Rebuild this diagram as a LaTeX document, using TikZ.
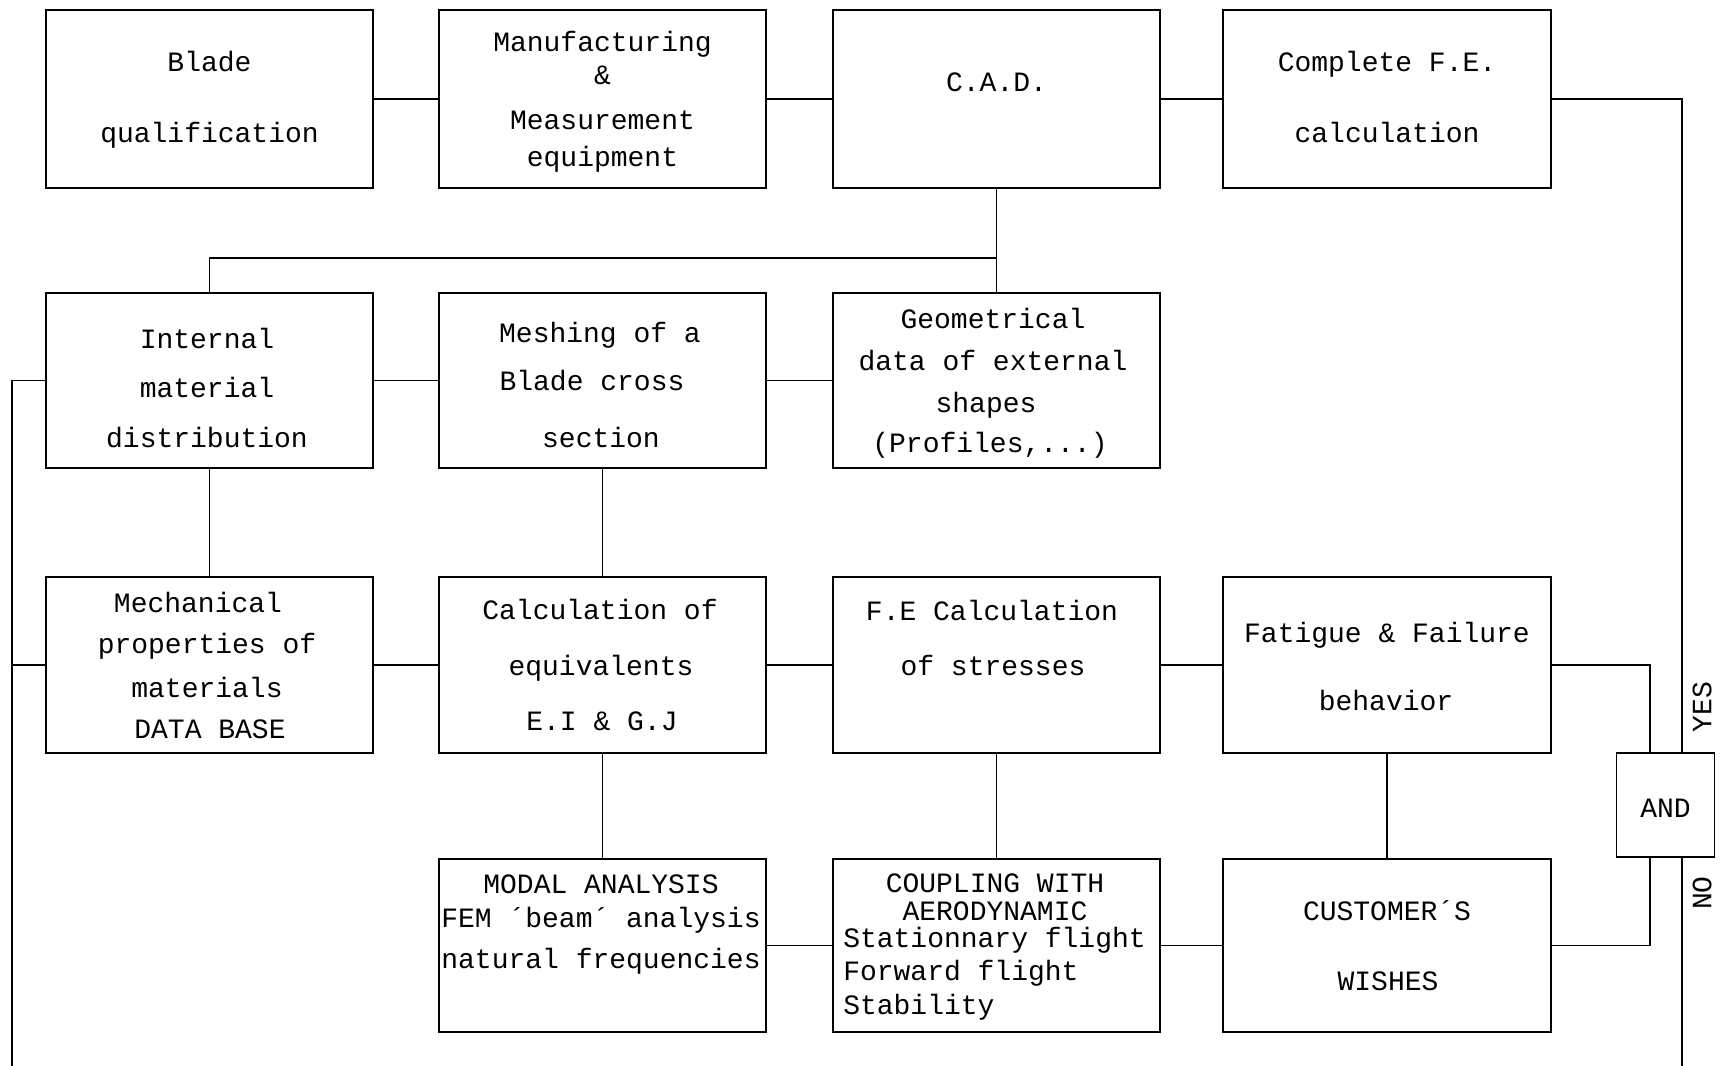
\documentclass[tikz,border=0pt]{standalone}
\usepackage{fontspec}
\setmainfont{Liberation Mono}
\begin{document}
\begin{tikzpicture}[x=0.75pt,y=-0.75pt,
  font=\fontsize{21}{25}\selectfont,
  box/.style={draw, line width=1.4pt, inner sep=0pt, minimum width=245.5pt},
  ln/.style={inner sep=0pt, anchor=base},
  lnw/.style={inner sep=0pt, anchor=base west},
  conn/.style={line width=1.05pt}]
\fill[white] (0,0) rectangle (1720,1066);
\useasboundingbox (0,0) rectangle (1720,1066);
% boxes row 1
\node[box, minimum height=133.5pt] (blade) at (209.5,99) {};
\node[box, minimum height=133.5pt] (manuf) at (602.5,99) {};
\node[box, minimum height=133.5pt] (cad)   at (996.5,99) {};
\node[box, minimum height=133.5pt] (cfe)   at (1387,99) {};
% row 2
\node[box, minimum height=131.25pt] (intm) at (209.5,380.5) {};
\node[box, minimum height=131.25pt] (mesh) at (602.5,380.5) {};
\node[box, minimum height=131.25pt] (geo)  at (996.5,380.5) {};
% row 3
\node[box, minimum height=132pt] (mech) at (209.5,665) {};
\node[box, minimum height=132pt] (calc) at (602.5,665) {};
\node[box, minimum height=132pt] (fec)  at (996.5,665) {};
\node[box, minimum height=132pt] (fat)  at (1387,665) {};
% row 4
\node[box, minimum height=129.75pt] (modal) at (602.5,945.5) {};
\node[box, minimum height=129.75pt] (coup)  at (996.5,945.5) {};
\node[box, minimum height=129.75pt] (cust)  at (1387,945.5) {};
% AND
\node[box, minimum width=73.5pt, minimum height=78pt] (and) at (1665.5,805) {};

% texts
\node[ln] (t1a) at (209.5,72) {Blade};
\node[ln] (t1b) at (209.5,143) {qualification};
\node[ln] (t2a) at (602.5,52) {Manufacturing};
\node[ln] (t2b) at (602.5,85) {\&};
\node[ln] (t2c) at (602.5,130) {Measurement};
\node[ln] (t2d) at (602.5,167) {equipment};
\node[ln] (t3a) at (996.5,92) {C.A.D.};
\node[ln] (t4a) at (1387,72) {Complete F.E.};
\node[ln] (t4b) at (1387,143) {calculation};

\node[ln] (t5a) at (207,348) {Internal};
\node[ln] (t5b) at (207,397) {material};
\node[ln] (t5c) at (207,447) {distribution};
\node[ln] (t6a) at (600,342) {Meshing of a};
\node[ln] (t6b) at (592,390) {Blade cross};
\node[ln] (t6c) at (601,447) {section};
\node[ln] (t7a) at (993,328) {Geometrical};
\node[ln] (t7b) at (993,370) {data of external};
\node[ln] (t7c) at (986,412) {shapes};
\node[ln] (t7d) at (990,452) {(Profiles,...)};

\node[ln] (t8a) at (198,612) {Mechanical};
\node[ln] (t8b) at (207,653) {properties of};
\node[ln] (t8c) at (207,697) {materials};
\node[ln] (t8d) at (210,738) {DATA BASE};
\node[ln] (t9a) at (600,619) {Calculation of};
\node[ln] (t9b) at (601,675) {equivalents};
\node[ln] (t9c) at (602,730) {E.I \& G.J};
\node[ln] (t10a) at (992,620) {F.E Calculation};
\node[ln] (t10b) at (993,675) {of stresses};
\node[ln] (t11a) at (1387,642) {Fatigue \& Failure};
\node[ln] (t11b) at (1386,710) {behavior};

\node[ln] (t12a) at (601,893) {MODAL ANALYSIS};
\node[ln] (t12b) at (601,927) {FEM ´beam´ analysis};
\node[ln] (t12c) at (601,968) {natural frequencies};
\node[ln] (t13a) at (995,892) {COUPLING WITH};
\node[ln] (t13b) at (995,920) {AERODYNAMIC};
\node[lnw] (t13c) at (843,947) {Stationnary flight};
\node[lnw] (t13d) at (843,980) {Forward flight};
\node[lnw] (t13e) at (843,1014) {Stability};
\node[ln] (t14a) at (1387,920) {CUSTOMER´S};
\node[ln] (t14b) at (1388,990) {WISHES};
\node[ln] (tand) at (1665.5,817) {AND};
\node[inner sep=0pt, rotate=90] (yes) at (1702,707) {YES};
\node[inner sep=0pt, rotate=90] (no) at (1702,893) {NO};

% helper coordinates
\coordinate (rr) at (1682,1066);
\coordinate (ll) at (12,1066);
\coordinate (ax) at (1650,0);
\coordinate (br) at (996.5,258);

% connectors
\draw[conn] (blade.east) -- (manuf.west);
\draw[conn] (manuf.east) -- (cad.west);
\draw[conn] (cad.east) -- (cfe.west);
\draw[conn] (cfe.east) -| (and.north -| rr);
\draw[conn] (and.south -| rr) -- (rr);
\draw[conn] (cad.south) -- (geo.north);
\draw[conn] (br) -| (intm.north);
\draw[conn] (intm.east) -- (mesh.west);
\draw[conn] (mesh.east) -- (geo.west);
\draw[conn] (intm.west) -| (ll);
\draw[conn] (mech.west) -- (mech.west -| ll);
\draw[conn] (intm.south) -- (mech.north);
\draw[conn] (mesh.south) -- (calc.north);
\draw[conn] (mech.east) -- (calc.west);
\draw[conn] (calc.east) -- (fec.west);
\draw[conn] (fec.east) -- (fat.west);
\draw[conn] (calc.south) -- (modal.north);
\draw[conn] (fec.south) -- (coup.north);
\draw[conn] (fat.south) -- (cust.north);
\draw[conn] (modal.east) -- (coup.west);
\draw[conn] (coup.east) -- (cust.west);
\draw[conn] (fat.east) -| (and.north -| ax);
\draw[conn] (cust.east) -| (and.south -| ax);
\end{tikzpicture}
\end{document}
